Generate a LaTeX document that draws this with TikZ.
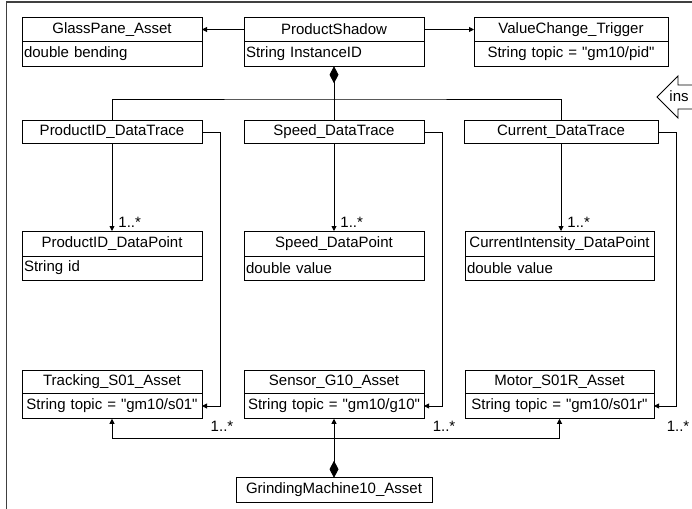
\documentclass[tikz,border=0pt]{standalone}
\usepackage{fontspec}
\setmainfont{Liberation Sans}[Ligatures=TeXOff]
\usetikzlibrary{positioning,arrows.meta}
\definecolor{framegray}{RGB}{64,64,64}
\newcommand{\qt}{\symbol{34}}

\begin{document}
\begin{tikzpicture}[x=1pt,y=-1pt,line width=0.9pt,
  font=\fontsize{15}{18}\selectfont,
  head/.style={draw, outer sep=0pt, inner sep=0pt, minimum width=#1},
  attr/.style={draw, outer sep=0pt, inner xsep=2pt, inner ysep=0pt, text width=#1, align=left},
  tip/.style={-{Triangle[length=5pt,width=5pt]}},
  owner/.style={{Diamond[length=17pt,width=9pt]}-},
  ownertip/.style={{Diamond[length=17pt,width=9pt]}-{Triangle[length=5pt,width=5pt]}},
  mult/.style={inner sep=0pt}]
\useasboundingbox (0,0) rectangle (692,508);
\draw[framegray, line width=1.3pt] (6.5,512) -- (6.5,2) -- (696,2);

\node[head=180pt, minimum height=24.5pt] (gp) at (112,29.5) {GlassPane\_Asset};
\node[attr=176pt, minimum height=24.5pt, below=0pt of gp] (gpA) {double bending};
\node[head=180pt, minimum height=24.5pt] (ps) at (334,29.5) {ProductShadow};
\node[attr=176pt, minimum height=24.5pt, below=0pt of ps] (psA) {String InstanceID};
\node[head=194pt, minimum height=24.5pt] (vt) at (571,29.5) {ValueChange\_Trigger};
\node[attr=190pt, minimum height=24.5pt, align=center, below=0pt of vt] (vtA) {String topic = \qt gm10/pid\qt};

\node[head=180pt, minimum height=22.5pt] (pdt) at (112,132) {ProductID\_DataTrace};
\node[head=180pt, minimum height=22.5pt] (sdt) at (334,132) {Speed\_DataTrace};
\node[head=194pt, minimum height=22.5pt] (cdt) at (561,132) {Current\_DataTrace};

\node[head=180pt, minimum height=25pt] (pdp) at (112,243.5) {ProductID\_DataPoint};
\node[attr=176pt, minimum height=24pt, below=0pt of pdp] (pdpA) {String id};
\node[head=180pt, minimum height=25pt] (sdp) at (334,243.5) {Speed\_DataPoint};
\node[attr=176pt, minimum height=24pt, below=0pt of sdp] (sdpA) {double value};
\node[head=189pt, minimum height=25pt] (cdp) at (559.5,243.5) {CurrentIntensity\_DataPoint};
\node[attr=185pt, minimum height=24pt, below=0pt of cdp] (cdpA) {double value};

\node[head=180pt, minimum height=22.5pt] (tra) at (112,382) {Tracking\_S01\_Asset};
\node[attr=176pt, minimum height=25.5pt, align=center, below=0pt of tra] (traA) {String topic = \qt gm10/s01\qt};
\node[head=180pt, minimum height=22.5pt] (sen) at (334,382) {Sensor\_G10\_Asset};
\node[attr=176pt, minimum height=25.5pt, align=center, below=0pt of sen] (senA) {String topic = \qt gm10/g10\qt};
\node[head=189pt, minimum height=22.5pt] (mot) at (559.5,382) {Motor\_S01R\_Asset};
\node[attr=185pt, minimum height=25.5pt, align=center, below=0pt of mot] (motA) {String topic = \qt gm10/s01r\qt};

\node[head=196pt, minimum height=24.5pt] (gm) at (334,490) {GrindingMachine10\_Asset};

\draw[tip] (ps.west) -- (gp.east);
\draw[tip] (ps.east) -- (vt.west);
\draw[owner] (psA.south) -- (sdt.north);
\coordinate (top) at (334,99);
\draw (pdt.north) |- (top) -| (cdt.north);

\draw[tip] (pdt.south) -- node[mult, pos=1, anchor=south west, xshift=6pt, yshift=3pt] {1..*} (pdp.north);
\draw[tip] (sdt.south) -- node[mult, pos=1, anchor=south west, xshift=6pt, yshift=3pt] {1..*} (sdp.north);
\draw[tip] (cdt.south) -- node[mult, pos=1, anchor=south west, xshift=6pt, yshift=3pt] {1..*} (cdt.south |- cdp.north);

\draw[tip] (pdt.east) -- ++(18,0) |- node[mult, pos=0.5, anchor=north, xshift=2pt, yshift=-15pt] {1..*} (traA.east);
\draw[tip] (sdt.east) -- ++(18,0) |- node[mult, pos=0.5, anchor=north, xshift=2pt, yshift=-15pt] {1..*} (senA.east);
\draw[tip] (cdt.east) -- ++(18,0) |- node[mult, pos=0.5, anchor=north, xshift=2pt, yshift=-15pt] {1..*} (motA.east);

\coordinate (bot) at (334,438);
\draw[ownertip] (gm.north) -- (senA.south);
\draw[tip] (bot) -| (traA.south);
\draw[tip] (bot) -| (motA.south);

\draw (700,85) -- (678,85) -- (678,76) -- (657,97) -- (678,118) -- (678,109) -- (700,109);
\node[inner sep=0pt, anchor=base west] (ins) at (669,101) {ins};
\end{tikzpicture}
\end{document}
